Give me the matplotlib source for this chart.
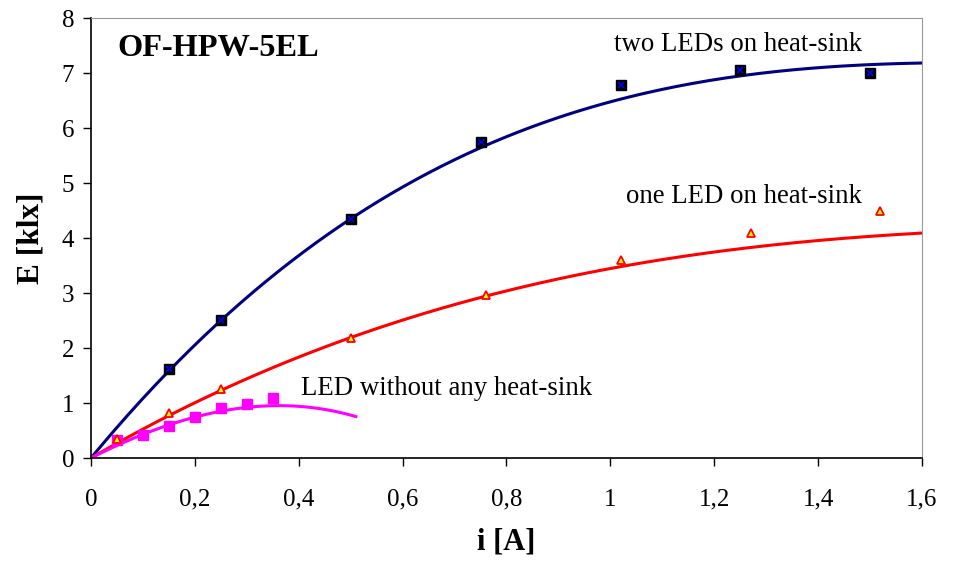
import matplotlib.pyplot as plt
import numpy as np

# measured points, current i [A] vs illuminance E [klx]
i_two = [0.15, 0.25, 0.50, 0.75, 1.02, 1.25, 1.50]
e_two = [1.62, 2.51, 4.35, 5.75, 6.78, 7.05, 7.00]

i_one = [0.05, 0.15, 0.25, 0.50, 0.76, 1.02, 1.27, 1.52]
e_one = [0.35, 0.82, 1.25, 2.19, 2.96, 3.60, 4.10, 4.50]

i_none = [0.05, 0.10, 0.15, 0.20, 0.25, 0.30, 0.35]
e_none = [0.33, 0.42, 0.59, 0.75, 0.915, 0.99, 1.10]

# trend line polynomials (highest power first, through the origin)
trend_two = [1.026, -5.98, 11.43, 0.0]
trend_one = [0.3506, -2.394, 5.489, 0.0]
trend_none = [-3.54, -4.709, 4.799, 0.0]
trend_two_end = 1.6
trend_one_end = 1.6
trend_none_end = 0.51

x_ticks = [0, 0.2, 0.4, 0.6, 0.8, 1.0, 1.2, 1.4, 1.6]
x_tick_labels = ['0', '0,2', '0,4', '0,6', '0,8', '1', '1,2', '1,4', '1,6']
y_ticks = [0, 1, 2, 3, 4, 5, 6, 7, 8]

plt.rcParams['font.family'] = ['Liberation Serif', 'DejaVu Serif']

fig = plt.figure(figsize=(9.57, 5.63), dpi=100)
ax = fig.add_axes([0.0951, 0.1865, 0.8683, 0.7815])

navy = '#000080'
red = '#ff0000'
magenta = '#ff00ff'

xs = np.linspace(0, trend_two_end, 200)
ax.plot(xs, np.polyval(trend_two, xs), color=navy, lw=2.2, zorder=2)
xs = np.linspace(0, trend_one_end, 200)
ax.plot(xs, np.polyval(trend_one, xs), color=red, lw=2.2, zorder=2)
xs = np.linspace(0, trend_none_end, 200)
ax.plot(xs, np.polyval(trend_none, xs), color=magenta, lw=2.2, zorder=2)

ax.plot(i_none, e_none, 's', color=magenta, ms=6.5, mec=magenta, zorder=3)
ax.plot(i_one, e_one, '^', mfc='#ffff00', mec=red, mew=1.3, ms=6, zorder=4)
ax.plot(i_two, e_two, 's', mfc='black', mec='black', ms=6.5, zorder=4)
ax.plot(i_two, e_two, 'x', color='#0000ff', ms=5, mew=1.2, zorder=5)

ax.text(1.246, 7.51, 'two LEDs on heat-sink', fontsize=19.3, ha='center', va='center')
ax.text(1.258, 4.75, 'one LED on heat-sink', fontsize=19.3, ha='center', va='center')
ax.text(0.685, 1.27, 'LED without any heat-sink', fontsize=19.3, ha='center', va='center')
ax.text(0.245, 7.45, 'OF-HPW-5EL', fontsize=23.3, fontweight='bold', ha='center', va='center')

ax.set_xlim(0, 1.6)
ax.set_ylim(0, 8)
ax.set_xticks(x_ticks)
ax.set_xticklabels(x_tick_labels)
ax.set_yticks(y_ticks)
ax.tick_params(axis='both', labelsize=18, direction='out', length=6, width=1, colors='black')
ax.tick_params(axis='x', pad=16)
ax.tick_params(axis='y', pad=6)

ax.spines['top'].set_color('#999999')
ax.spines['right'].set_color('#999999')
for s in ['left', 'bottom']:
    ax.spines[s].set_linewidth(1.2)

ax.set_xlabel('i [A]', fontsize=22, fontweight='bold', labelpad=12)
ax.set_ylabel('E [klx]', fontsize=22.5, fontweight='bold', labelpad=12)

plt.savefig('out.png', dpi=100)
